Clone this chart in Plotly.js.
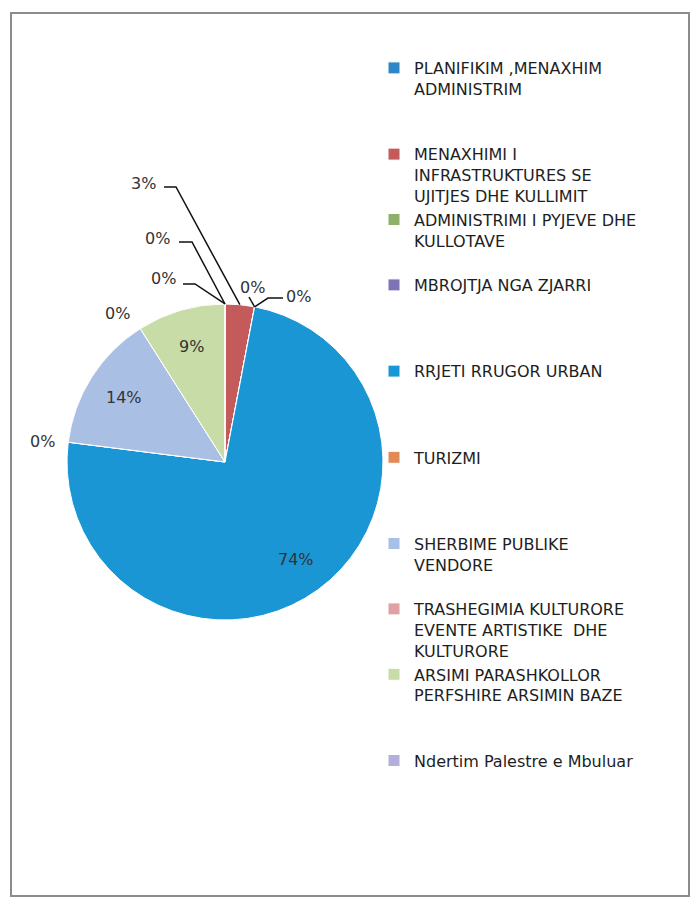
<!DOCTYPE html>
<html><head><meta charset="utf-8">
<script src="https://cdn.plot.ly/plotly-3.0.1.min.js"></script>
<style>html,body{margin:0;padding:0;background:#fff}</style>
</head><body><div id="chart" style="width:691px;height:904px"></div>
<script>
// ---- data ----
const categories = [
  "PLANIFIKIM ,MENAXHIM<br>ADMINISTRIM",
  "MENAXHIMI I<br>INFRASTRUKTURES SE<br>UJITJES DHE KULLIMIT",
  "ADMINISTRIMI I PYJEVE DHE<br>KULLOTAVE",
  "MBROJTJA NGA ZJARRI",
  "RRJETI RRUGOR URBAN",
  "TURIZMI",
  "SHERBIME PUBLIKE<br>VENDORE",
  "TRASHEGIMIA KULTURORE<br>EVENTE ARTISTIKE  DHE<br>KULTURORE",
  "ARSIMI PARASHKOLLOR<br>PERFSHIRE ARSIMIN BAZE",
  "Ndertim Palestre e Mbuluar"
];
const percentValues = [0, 3, 0, 0, 74, 0, 14, 0, 9, 0];
const sliceColors = ["#2f86c6", "#c45a5a", "#8fb06a", "#8072b6", "#1b96d4",
                     "#e08a58", "#aabfe4", "#e0a0a4", "#c8dca8", "#b3afdc"];

// ---- styling / layout helpers ----
const W = 691, H = 904;
const FONT = "DejaVu Sans";
const pieBox = {left: 67, top: 304, size: 316};
const cx = pieBox.left + pieBox.size / 2, cy = pieBox.top + pieBox.size / 2, R = pieBox.size / 2;
const px = x => x / W, py = y => 1 - y / H;

const total = percentValues.reduce((a, b) => a + b, 0);
let cum = 0;
const midAngles = percentValues.map(v => { const m = (cum + v / 2) / total * 360; cum += v; return m; });
const polar = (i, f) => { const a = midAngles[i] * Math.PI / 180; return [cx + f * R * Math.sin(a), cy - f * R * Math.cos(a)]; };
const pctText = i => Math.round(percentValues[i] / total * 100) + "%";

// legend: total line slots per entry (to mimic the original spacing)
const legendSlots = [4, 3, 3, 4, 4, 4, 3, 3, 4, 1];
const legendLabels = categories.map((c, i) => {
  const n = c.split("<br>").length;
  return c + "<br>\u00A0".repeat(Math.max(0, legendSlots[i] - n));
});

// small-slice labels placed outside with leader lines (label centre, elbow points)
const outsideLabels = [
  {i: 1, at: [143, 184], elbow: [[164, 187], [176, 187]]},
  {i: 0, at: [157, 239], elbow: [[179, 242], [192, 242]]},
  {i: 9, at: [163, 278], elbow: [[183, 284], [195, 284]]},
  {i: 2, at: [252, 287], elbow: [[249, 297]]},
  {i: 3, at: [298, 296], elbow: [[283, 298], [268, 298]]},
  {i: 5, at: [42, 442], elbow: null},
  {i: 7, at: [117, 313], elbow: null}
];
const insideLabelRadius = 0.76;

const labelFont = {family: FONT, size: 16, color: "#333"};
const annotations = outsideLabels.map(o => ({
  xref: "paper", yref: "paper", x: px(o.at[0]), y: py(o.at[1]),
  text: pctText(o.i), showarrow: false, xanchor: "center", yanchor: "middle", font: labelFont
}));
percentValues.forEach((v, i) => {
  if (v / total < 0.05) return;
  const p = polar(i, insideLabelRadius);
  annotations.push({xref: "paper", yref: "paper", x: px(p[0]), y: py(p[1]),
    text: pctText(i), showarrow: false, xanchor: "center", yanchor: "middle", font: labelFont});
});

const shapes = [{
  type: "rect", xref: "paper", yref: "paper",
  x0: px(11), x1: px(689), y0: py(896), y1: py(13),
  line: {color: "#8c8c8c", width: 2}, fillcolor: "rgba(0,0,0,0)"
}];
outsideLabels.filter(o => o.elbow).forEach(o => {
  const pts = o.elbow.concat([polar(o.i, 1)]);
  const d = pts.map((p, k) => (k ? "L" : "M") + px(p[0]).toFixed(5) + "," + py(p[1]).toFixed(5)).join(" ");
  shapes.push({type: "path", xref: "paper", yref: "paper", path: d, line: {color: "#111", width: 1.5}});
});

const trace = {
  type: "pie",
  labels: legendLabels,
  values: percentValues,
  sort: false,
  direction: "clockwise",
  rotation: 0,
  marker: {colors: sliceColors, line: {color: "#ffffff", width: 1}},
  textinfo: "none",
  domain: {x: [px(pieBox.left), px(pieBox.left + pieBox.size)], y: [py(pieBox.top + pieBox.size), py(pieBox.top)]},
  hoverinfo: "skip",
  automargin: false
};

const layout = {
  width: W, height: H,
  margin: {l: 0, r: 0, t: 0, b: 0, autoexpand: false},
  paper_bgcolor: "#ffffff",
  showlegend: true,
  legend: {
    x: px(374), y: py(51), xanchor: "left", yanchor: "top", valign: "top",
    font: {family: FONT, size: 16, color: "#1e1e1e"},
    bgcolor: "rgba(0,0,0,0)", borderwidth: 0, itemclick: false, itemdoubleclick: false
  },
  annotations: annotations,
  shapes: shapes
};

Plotly.newPlot("chart", [trace], layout, {displayModeBar: false, staticPlot: true});
</script>
</body></html>
